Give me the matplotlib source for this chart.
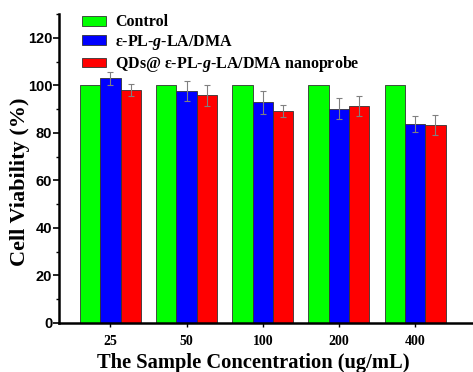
import numpy as np
import matplotlib
matplotlib.use("Agg")
import matplotlib.pyplot as plt
from matplotlib.ticker import MultipleLocator

# datos
concentraciones = ["25", "50", "100", "200", "400"]
control = [100, 100, 100, 100, 100]
polimero = [102.9, 97.6, 92.8, 90.2, 83.7]
polimero_err = [2.7, 4.2, 4.8, 4.3, 3.3]
nanoprobe = [98.2, 95.9, 89.2, 91.3, 83.2]
nanoprobe_err = [2.5, 4.4, 2.7, 4.1, 4.2]

etiquetas = [
    "Control",
    "ε-PL-$g$-LA/DMA",
    "QDs@ ε-PL-$g$-LA/DMA nanoprobe",
]
colores = ["#00ff00", "#0000ff", "#ff0000"]

plt.rcParams["mathtext.fontset"] = "custom"
plt.rcParams["mathtext.it"] = "Liberation Serif:italic:bold"
plt.rcParams["mathtext.rm"] = "Liberation Serif:bold"

fig = plt.figure(figsize=(4.73, 3.72), dpi=100)
ax = fig.add_axes([0.125, 0.1325, 0.873, 0.8295])

x = np.arange(len(concentraciones))
w = 0.267
err_kw = dict(ecolor="#808080", elinewidth=0.8, capsize=2.5, capthick=0.8)

ax.bar(x - w, control, w, color=colores[0], edgecolor="#333333", linewidth=0.6,
       label=etiquetas[0])
ax.bar(x, polimero, w, yerr=polimero_err, color=colores[1], edgecolor="#333333",
       linewidth=0.6, error_kw=err_kw, label=etiquetas[1])
ax.bar(x + w, nanoprobe, w, yerr=nanoprobe_err, color=colores[2], edgecolor="#333333",
       linewidth=0.6, error_kw=err_kw, label=etiquetas[2])

ax.set_xlim(-0.673, 4.747)
ax.set_ylim(0, 130)
ax.set_xticks(x)
ax.set_xticklabels(concentraciones, fontfamily="Liberation Serif", fontweight="bold",
                   fontsize=10)
ax.set_yticks(np.arange(0, 121, 20))
ax.yaxis.set_minor_locator(MultipleLocator(10))
for lab in ax.get_yticklabels():
    lab.set_fontfamily("Liberation Sans")
    lab.set_fontweight("bold")
    lab.set_fontsize(10.5)

ax.spines["top"].set_visible(False)
ax.spines["right"].set_visible(False)
ax.spines["left"].set_linewidth(1.8)
ax.spines["bottom"].set_linewidth(1.8)
ax.tick_params(axis="y", which="major", direction="out", length=4, width=1.2, pad=1)
ax.tick_params(axis="y", which="minor", direction="out", length=2.5, width=1.0)
ax.tick_params(axis="x", which="major", direction="out", length=3, width=1.0, pad=6)

ax.set_xlabel("The Sample Concentration (ug/mL)", fontfamily="Liberation Serif",
              fontweight="bold", fontsize=14.8)
ax.set_ylabel("Cell Viability (%)", fontfamily="Liberation Serif",
              fontweight="bold", fontsize=16)
ax.xaxis.set_label_coords(0.471, -0.097)
ax.yaxis.set_label_coords(-0.07, 0.456)

leg = ax.legend(loc="upper left", bbox_to_anchor=(0.035, 1.025), frameon=False,
                prop={"family": "Liberation Serif", "weight": "bold", "size": 11.5},
                handlelength=1.5, handleheight=0.55, handletextpad=0.62,
                labelspacing=0.15, borderaxespad=0.1)

fig.savefig("out.png", dpi=100)
